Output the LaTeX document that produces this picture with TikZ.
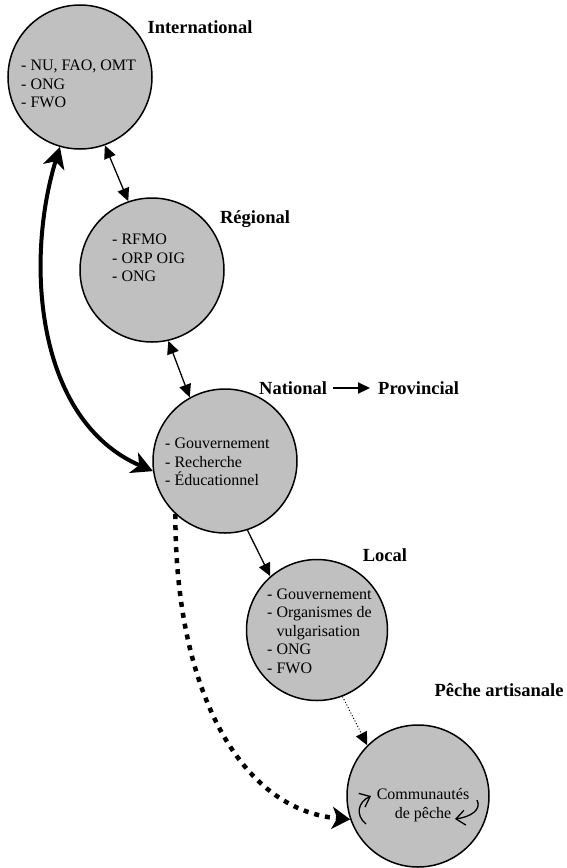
\documentclass[tikz,border=0pt]{standalone}
\usepackage{fontspec}
\setmainfont{Liberation Serif}
\usetikzlibrary{arrows.meta}
\definecolor{circfill}{RGB}{192,192,192}
\begin{document}
\begin{tikzpicture}[x=1pt,y=-1pt,
  bubble/.style={circle,draw,line width=1.5pt,fill=circfill,minimum size=#1,inner sep=0pt},
  innertext/.style={font=\fontsize{16}{18.5}\selectfont,align=left,anchor=west,inner sep=0pt},
  lvl/.style={font=\fontsize{18.5}{20}\selectfont\bfseries,inner sep=0pt},
  link/.style={line width=1.3pt,-{Triangle[length=13pt,width=12pt]}},
  linkboth/.style={line width=1.3pt,{Triangle[length=13pt,width=12pt]}-{Triangle[length=13pt,width=12pt]}},
  bigboth/.style={line width=4pt,{Stealth[length=21pt,width=22pt,inset=6pt]}-{Stealth[length=21pt,width=22pt,inset=6pt]}},
  bigdots/.style={line width=4.5pt,dash pattern=on 5pt off 6pt,-{Stealth[length=18pt,width=22pt,inset=5pt]}},
  smalldots/.style={line width=1pt,dotted,-{Triangle[length=13pt,width=12pt]}},
  cyc/.style={line width=1.3pt,-{Straight Barb[length=9pt,width=15pt]}}
]
\useasboundingbox (0,0) rectangle (567,868);

\node[bubble=144pt] (int) at (80,77) {};
\node[bubble=144pt] (reg) at (152,270) {};
\node[bubble=144pt] (nat) at (225,461) {};
\node[bubble=141pt] (loc) at (317,630) {};
\node[bubble=142pt] (pec) at (418,796) {};

\node[innertext] (intT) at (21,84) {- NU, FAO, OMT\\- ONG\\- FWO};
\node[innertext] (regT) at (112,258) {- RFMO\\- ORP OIG\\- ONG};
\node[innertext] (natT) at (165,462) {- Gouvernement\\- Recherche\\- Éducationnel};
\node[innertext] (locT) at (267,631) {- Gouvernement\\- Organismes de\\\phantom{- }vulgarisation\\- ONG\\- FWO};
\node[font=\fontsize{16}{19}\selectfont,align=center,inner sep=0pt] (pecT) at (423,805) {Communautés\\de pêche};

\node[lvl] (intL) at (200,27) {International};
\node[lvl] (regL) at (255,219) {Régional};
\node[lvl,anchor=west] (natL) at (259,388) {National};
\node[lvl,anchor=west] (provL) at (378,388) {Provincial};
\node[lvl] (locL) at (385,555) {Local};
\node[lvl] (pecL) at (499,690) {Pêche artisanale};

\draw[line width=2.2pt,-{Triangle[length=12pt,width=11pt]},shorten <=6pt,shorten >=8pt] (natL.east) -- (provL.west);

\draw[linkboth] (int.-70) -- (reg.109);
\draw[linkboth] (reg.-77) -- (nat.119);
\draw[link] (nat.-72) -- (loc.131);
\draw[smalldots] (loc.-69) -- (pec.135);
\draw[bigboth] (int.-106) .. controls (25,260) and (35,420) .. (nat.188);
\draw[bigdots] (nat.-133) .. controls (175,690) and (240,810) .. (pec.199);

\coordinate (c1s) at (366,824);
\coordinate (c1e) at (371,796);
\coordinate (c2s) at (477,800);
\coordinate (c2e) at (455,819);
\draw[cyc] (c1s) .. controls (355,815) and (358,802) .. (c1e);
\draw[cyc] (c2s) .. controls (482,810) and (470,817) .. (c2e);
\end{tikzpicture}
\end{document}
